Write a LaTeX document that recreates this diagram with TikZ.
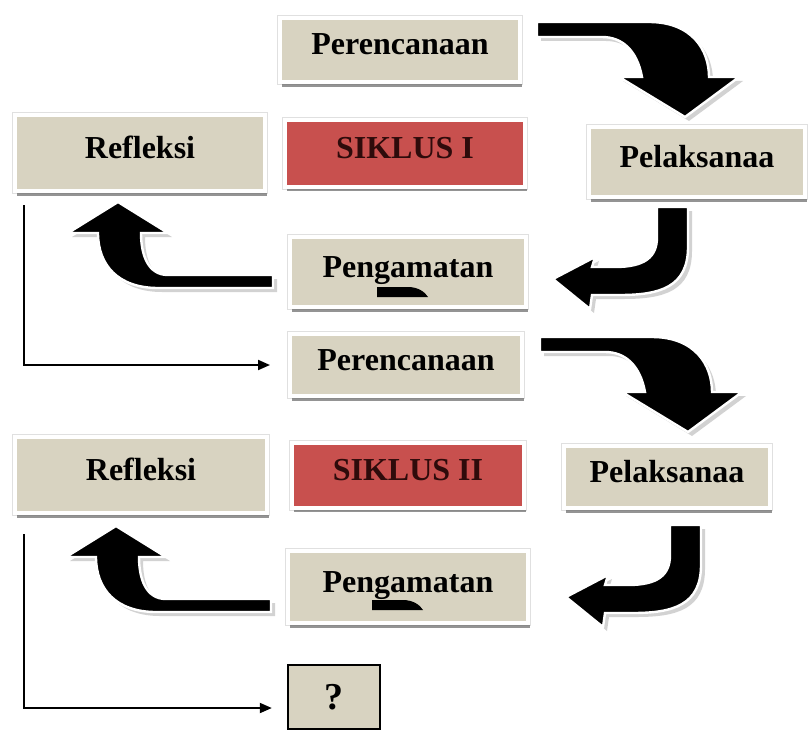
\documentclass[tikz,border=0pt]{standalone}
\usepackage{fontspec}
\setmainfont{Liberation Serif}
\usetikzlibrary{arrows.meta, calc, shadows}
\definecolor{mBeige}{HTML}{D8D3C1}
\definecolor{mRed}{HTML}{C8504E}
\definecolor{mDarkRed}{HTML}{2E0B0B}

\begin{document}
\begin{tikzpicture}[x=0.5pt, y=-0.5pt,
    box/.style={fill=mBeige, draw=white, line width=2pt, inner sep=0pt,
      text height=11pt, text depth=6pt,
      preaction={draw=black!12, line width=3pt},
      drop shadow={shadow xshift=0.8pt, shadow yshift=-2.4pt, fill=black!60, opacity=0.7},
      font=\fontsize{16}{18}\selectfont\bfseries},
    siklus/.style={box, fill=mRed, text=mDarkRed},
    qbox/.style={fill=mBeige, draw=black, line width=1.2pt,
      font=\fontsize{19}{21}\selectfont\bfseries},
    blockarrow/.style={fill=black, draw=white, line width=1.2pt,
      drop shadow={shadow xshift=2pt, shadow yshift=-2pt, fill=black!35, opacity=0.5}},
    link/.style={line width=1pt, -{Triangle[length=6pt, width=5pt]}},
    turndown/.pic={\fill[blockarrow] (0,-8) -- (112,-8) .. controls (155,-8) and (172,20) .. (172,47)
      -- (202,47) -- (148,87) -- (82,47) -- (105,47) .. controls (100,20) and (85,7) .. (65,7)
      -- (0,7) -- cycle;},
    turnleft/.pic={\fill[blockarrow] (16,0) -- (16,40) .. controls (16,80) and (-12,88) .. (-52,88)
      -- (-80,88) -- (-82,102) -- (-119,72) -- (-77,50) -- (-80,60) -- (-57,60)
      .. controls (-27,60) and (-15,50) .. (-15,30) -- (-15,0) -- cycle;},
    turnup/.pic={\fill[blockarrow] (0,7) -- (-115,7) .. controls (-155,7) and (-175,-16) .. (-175,-48)
      -- (-205,-48) -- (-155,-79) -- (-105,-48) -- (-132,-48)
      .. controls (-132,-26) and (-125,-6) .. (-105,-6) -- (0,-6) -- cycle;}]
    \useasboundingbox (0,0) rectangle (812,733);
    % cycle I
    \node[box, minimum width=120pt, minimum height=32pt] (per1) at (400,50) {Perencanaan};
    \node[siklus, minimum width=120pt, minimum height=33.5pt] (sik1) at (405,153) {SIKLUS I};
    \node[box, minimum width=125pt, minimum height=38pt] (ref1) at (140,153) {Refleksi};
    \node[box, minimum width=108pt, minimum height=35pt] (pel1) at (697,162) {Pelaksanaa};
    \node[box, minimum width=118pt, minimum height=35pt] (pen1) at (408,272) {Pengamatan};
    % cycle II
    \node[box, minimum width=116pt, minimum height=31pt] (per2) at (406,365) {Perencanaan};
    \node[siklus, minimum width=116pt, minimum height=32.5pt] (sik2) at (408,475) {SIKLUS II};
    \node[box, minimum width=126pt, minimum height=38pt] (ref2) at (141,475) {Refleksi};
    \node[box, minimum width=103pt, minimum height=31pt] (pel2) at (667,477) {Pelaksanaa};
    \node[box, minimum width=120pt, minimum height=36pt] (pen2) at (408,587) {Pengamatan};
    \node[qbox, minimum width=46pt, minimum height=32pt] (q) at (334,697) {?};
    % block arrows
    \pic at ($(per1.east)+(15,-20)$) {turndown};
    \pic at ($(pel1.south)+(-25,8)$) {turnleft};
    \pic at ($(pen1.west)+(-15,9)$) {turnup};
    \pic at ($(per2.east)+(16,-20)$) {turndown};
    \pic at ($(pel2.south)+(18,15)$) {turnleft};
    \pic at ($(pen2.west)+(-15,18)$) {turnup};
    % stray bits under the text
    \fill ($(pen1.south)+(-31,-22)$) -- ++(31,0) .. controls +(10,0) and +(-3,-5) .. ++(20,10) -- ++(-51,0) -- cycle;
    \fill ($(pen2.south)+(-36,-25)$) -- ++(31,0) .. controls +(10,0) and +(-3,-5) .. ++(20,10) -- ++(-51,0) -- cycle;
    % links to the next step
    \draw[link, shorten >=9pt] ($(ref1.south west)+(11,12)$) |- (per2.west);
    \draw[link, shorten >=7.5pt] ($(ref2.south west)+(11,19)$) |- ($(q.west)+(0,11)$);
\end{tikzpicture}
\end{document}
